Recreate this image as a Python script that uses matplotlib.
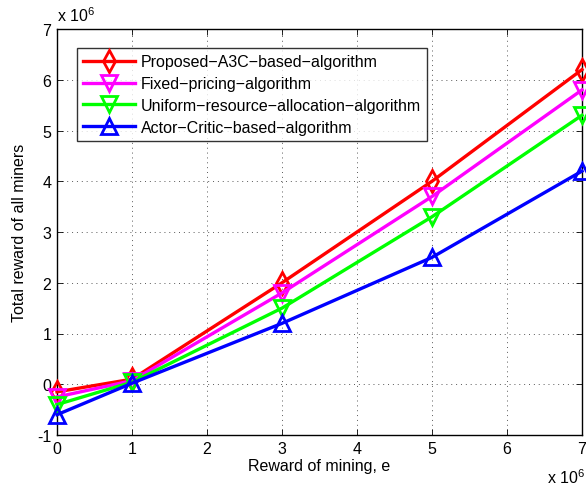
import matplotlib
matplotlib.use("Agg")
import matplotlib.pyplot as plt

plt.rcParams['font.family'] = ['Liberation Sans', 'DejaVu Sans']
plt.rcParams['mathtext.fontset'] = 'custom'
plt.rcParams['mathtext.rm'] = 'Liberation Sans'

x_vals = [0, 1, 3, 5, 7]
series_names = ['Proposed\u2212A3C\u2212based\u2212algorithm',
                'Fixed\u2212pricing\u2212algorithm',
                'Uniform\u2212resource\u2212allocation\u2212algorithm',
                'Actor\u2212Critic\u2212based\u2212algorithm']
a3c = [-0.15, 0.1, 2.0, 4.0, 6.2]
fixed = [-0.25, 0.07, 1.8, 3.7, 5.8]
uniform = [-0.4, 0.04, 1.5, 3.3, 5.3]
actor = [-0.6, 0.02, 1.2, 2.5, 4.2]
colors = ['#ff0000', '#ff00ff', '#00ff00', '#0000ff']
markers = ['d', 'v', 'v', '^']
x_ticks = [0, 1, 2, 3, 4, 5, 6, 7]
y_ticks = [-1, 0, 1, 2, 3, 4, 5, 6, 7]

FS = 11.5

fig = plt.figure(figsize=(5.86, 4.89), dpi=100)
ax = fig.add_axes([57/586, 1-436/489, (582-57)/586, (436-30)/489])

for ys, c, m, name in zip([a3c, fixed, uniform, actor], colors, markers, series_names):
    ax.plot(x_vals, ys, color=c, lw=2.4, marker=m, markersize=11,
            markerfacecolor='none', markeredgecolor=c, markeredgewidth=2.0,
            label=name, clip_on=False, zorder=3)

ax.set_xlim(0, 7)
ax.set_ylim(-1, 7)
ax.set_xticks(x_ticks)
ax.set_yticks(y_ticks)
ax.set_xticklabels([str(t) for t in x_ticks])
ax.set_yticklabels([('-1' if t == -1 else str(t)) for t in y_ticks])
ax.tick_params(direction='in', top=True, right=True, labelsize=FS, length=4, width=0.6, pad=4)
ax.grid(True, color='0.35', linestyle=(0, (1, 4)), linewidth=0.7)
for s in ax.spines.values():
    s.set_linewidth(1.0)

ax.set_xlabel('Reward of mining, e', fontsize=FS, labelpad=2)
ax.set_ylabel('Total reward of all miners', fontsize=FS, labelpad=7)

fig.text(57/586, 1-22/489, r'x 10$^6$', fontsize=FS, ha='left', va='baseline')
fig.text(585/586, 1-484/489, r'x 10$^6$', fontsize=FS, ha='right', va='baseline')

leg = ax.legend(loc='upper left', bbox_to_anchor=((77-57)/525, (436-49)/406),
                fontsize=FS, frameon=True, fancybox=False, edgecolor='black',
                handlelength=3.2, borderpad=0.4, labelspacing=0.42,
                handletextpad=0.4, borderaxespad=0)
leg.get_frame().set_linewidth(1.0)

fig.savefig('out.png', dpi=100)
